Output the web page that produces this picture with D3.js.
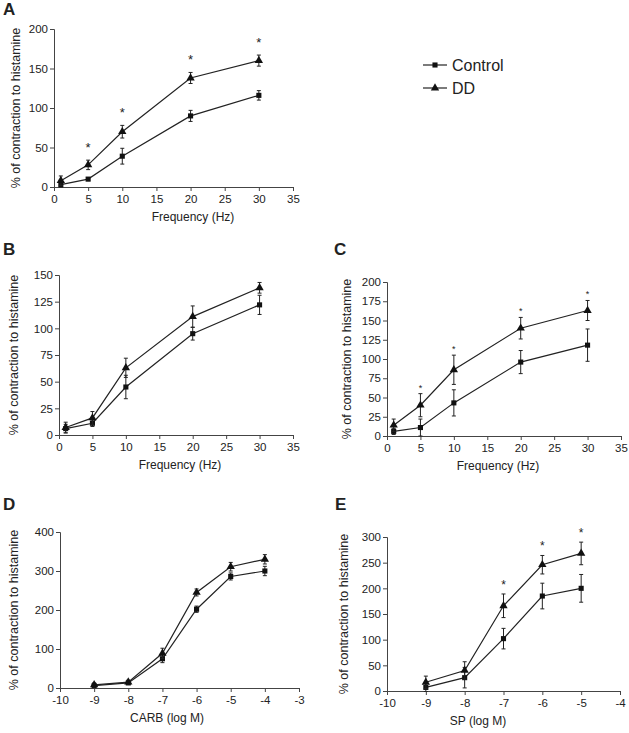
<!DOCTYPE html>
<html>
<head>
<meta charset="utf-8">
<script src="https://cdn.jsdelivr.net/npm/d3@7"></script>
<style>
  body { margin: 0; background: #fff; }
  text { font-family: "Liberation Sans", Arial, sans-serif; fill: #222; }
</style>
</head>
<body>
<script>
// x values
var freq = [1, 5, 10, 20, 30]
var carbConc = [-9, -8, -7, -6, -5, -4]
var spConc = [-9, -8, -7, -6, -5]

// panel A
var aControl = [3, 10, 39, 90, 116]
var aControlErr = [3, 2, 10, 7, 6]
var aDD = [8, 28, 70, 138, 160]
var aDDErr = [6, 6, 8, 7, 7]
var aStars = [5, 10, 20, 30]

// panel B
var bControl = [6, 11, 45, 95, 122]
var bControlErr = [4, 3, 11, 6, 9]
var bDD = [7, 16, 63, 111, 138]
var bDDErr = [5, 6, 9, 10, 5]
var bStars = []

// panel C
var cControl = [6, 11, 43, 96, 118]
var cControlErr = [4, 11, 17, 15, 21]
var cDD = [14, 40, 86, 140, 163]
var cDDErr = [8, 15, 19, 14, 13]
var cStars = [5, 10, 20, 30]

// panel D
var dControl = [6, 13, 75, 202, 286, 300]
var dControlErr = [4, 4, 10, 8, 9, 12]
var dDD = [8, 15, 89, 245, 311, 330]
var dDDErr = [5, 5, 13, 9, 11, 12]
var dStars = []

// panel E
var eControl = [7, 26, 102, 185, 200]
var eControlErr = [8, 20, 20, 25, 27]
var eDD = [17, 40, 166, 246, 268]
var eDDErr = [12, 17, 23, 18, 22]
var eStars = [-7, -6, -5]

// tick labels
var freqTicks = [0, 5, 10, 15, 20, 25, 30, 35]
var carbTicks = [-10, -9, -8, -7, -6, -5, -4, -3]
var spTicks = [-10, -9, -8, -7, -6, -5, -4]
var aYTicks = [0, 50, 100, 150, 200]
var bYTicks = [0, 25, 50, 75, 100, 125, 150]
var cYTicks = [0, 25, 50, 75, 100, 125, 150, 175, 200]
var dYTicks = [0, 100, 200, 300, 400]
var eYTicks = [0, 50, 100, 150, 200, 250, 300]

var yTitle = '% of contraction to histamine'

var panels = [
  { letter: 'A', lx: 3, ly: 15, left: 54, right: 293, top: 29, bottom: 187,
    xs: freq, xTicks: freqTicks, yTicks: aYTicks, xTitle: 'Frequency (Hz)', tx: 193, yx: 16,
    control: aControl, controlErr: aControlErr, dd: aDD, ddErr: aDDErr, stars: aStars, starSize: 13, starOff: 8 },
  { letter: 'B', lx: 3, ly: 255, left: 59, right: 293, top: 275, bottom: 435,
    xs: freq, xTicks: freqTicks, yTicks: bYTicks, xTitle: 'Frequency (Hz)', tx: 180, yx: 14,
    control: bControl, controlErr: bControlErr, dd: bDD, ddErr: bDDErr, stars: bStars, starSize: 13, starOff: 8 },
  { letter: 'C', lx: 334, ly: 255, left: 387, right: 621, top: 282, bottom: 436,
    xs: freq, xTicks: freqTicks, yTicks: cYTicks, xTitle: 'Frequency (Hz)', tx: 498, yx: 347,
    control: cControl, controlErr: cControlErr, dd: cDD, ddErr: cDDErr, stars: cStars, starSize: 9, starOff: 3 },
  { letter: 'D', lx: 3, ly: 510, left: 60, right: 299, top: 532, bottom: 688,
    xs: carbConc, xTicks: carbTicks, yTicks: dYTicks, xTitle: 'CARB (log M)', tx: 167, yx: 14,
    control: dControl, controlErr: dControlErr, dd: dDD, ddErr: dDDErr, stars: dStars, starSize: 13, starOff: 8 },
  { letter: 'E', lx: 335, ly: 510, left: 387, right: 620, top: 537, bottom: 691,
    xs: spConc, xTicks: spTicks, yTicks: eYTicks, xTitle: 'SP (log M)', tx: 478, yx: 344,
    control: eControl, controlErr: eControlErr, dd: eDD, ddErr: eDDErr, stars: eStars, starSize: 12, starOff: 5 }
]

var svg = d3.select('body').append('svg')
  .attr('width', 629)
  .attr('height', 733)

panels.forEach(function(p) {
  var x = d3.scaleLinear()
    .domain(d3.extent(p.xTicks))
    .range([p.left, p.right])
  var y = d3.scaleLinear()
    .domain(d3.extent(p.yTicks))
    .range([p.bottom, p.top])

  var g = svg.append('g')
  var plain = function(d) { return String(d) } // hyphen minus like the original

  // axes
  var xAxis = g.append('g')
    .attr('transform', 'translate(0,' + p.bottom + ')')
    .call(d3.axisBottom(x).tickValues(p.xTicks).tickFormat(plain).tickSizeOuter(0).tickSize(4).tickPadding(4))
  var yAxis = g.append('g')
    .attr('transform', 'translate(' + p.left + ',0)')
    .call(d3.axisLeft(y).tickValues(p.yTicks).tickFormat(plain).tickSizeOuter(0).tickSize(4).tickPadding(2))
  ;[xAxis, yAxis].forEach(function(a) {
    a.selectAll('path, line').attr('stroke', '#444')
    a.selectAll('text').attr('font-size', '11.5px').attr('fill', '#222')
      .style('font-family', '"Liberation Sans", Arial, sans-serif')
  })

  // titles
  g.append('text')
    .attr('x', p.lx).attr('y', p.ly)
    .attr('font-size', '17px').attr('font-weight', 'bold')
    .text(p.letter)
  g.append('text')
    .attr('x', p.tx).attr('y', p.bottom + 34)
    .attr('text-anchor', 'middle').attr('font-size', '12px')
    .text(p.xTitle)
  g.append('text')
    .attr('transform', 'translate(' + p.yx + ',' + (p.top + p.bottom) / 2 + ') rotate(-90)')
    .attr('text-anchor', 'middle').attr('dominant-baseline', 'central').attr('font-size', '12.5px')
    .text(yTitle)

  var series = [
    { vals: p.control, errs: p.controlErr, sym: d3.symbolSquare, size: 26 },
    { vals: p.dd, errs: p.ddErr, sym: d3.symbolTriangle, size: 30 }
  ]

  series.forEach(function(s) {
    var pts = p.xs.map(function(v, i) { return { x: v, y: s.vals[i], e: s.errs[i] } })

    // line
    g.append('path')
      .datum(pts)
      .attr('fill', 'none').attr('stroke', '#222').attr('stroke-width', 1.2)
      .attr('d', d3.line().x(function(d) { return x(d.x) }).y(function(d) { return y(d.y) }))

    // error bars
    var eb = g.selectAll(null).data(pts).enter().append('g')
      .attr('stroke', '#222').attr('stroke-width', 1)
    eb.append('line')
      .attr('x1', function(d) { return x(d.x) }).attr('x2', function(d) { return x(d.x) })
      .attr('y1', function(d) { return y(d.y - d.e) }).attr('y2', function(d) { return y(d.y + d.e) })
    eb.append('line')
      .attr('x1', function(d) { return x(d.x) - 2 }).attr('x2', function(d) { return x(d.x) + 2 })
      .attr('y1', function(d) { return y(d.y + d.e) }).attr('y2', function(d) { return y(d.y + d.e) })
    eb.append('line')
      .attr('x1', function(d) { return x(d.x) - 2 }).attr('x2', function(d) { return x(d.x) + 2 })
      .attr('y1', function(d) { return y(d.y - d.e) }).attr('y2', function(d) { return y(d.y - d.e) })

    // markers
    g.selectAll(null).data(pts).enter().append('path')
      .attr('d', d3.symbol().type(s.sym).size(s.size))
      .attr('transform', function(d) { return 'translate(' + x(d.x) + ',' + y(d.y) + ')' })
      .attr('fill', '#111')
  })

  // significance stars above DD error bars
  g.selectAll(null).data(p.stars).enter().append('text')
    .attr('x', function(d) { return x(d) })
    .attr('y', function(d) {
      var i = p.xs.indexOf(d)
      return y(p.dd[i] + p.ddErr[i]) - p.starOff
    })
    .attr('text-anchor', 'middle')
    .attr('font-size', p.starSize + 'px')
    .text('*')
})

// legend
var legendItems = [
  { name: 'Control', sym: d3.symbolSquare, size: 26, y: 65 },
  { name: 'DD', sym: d3.symbolTriangle, size: 30, y: 88 }
]
var lg = svg.selectAll('.legend').data(legendItems).enter().append('g')
  .attr('class', 'legend')
  .attr('transform', function(d) { return 'translate(423,' + d.y + ')' })
lg.append('line')
  .attr('x1', 0).attr('x2', 24).attr('stroke', '#222').attr('stroke-width', 1.2)
lg.append('path')
  .attr('d', function(d) { return d3.symbol().type(d.sym).size(d.size)() })
  .attr('transform', 'translate(12,0)')
  .attr('fill', '#111')
lg.append('text')
  .attr('x', 29).attr('dy', '0.36em')
  .attr('font-size', '16px')
  .text(function(d) { return d.name })
</script>
</body>
</html>
